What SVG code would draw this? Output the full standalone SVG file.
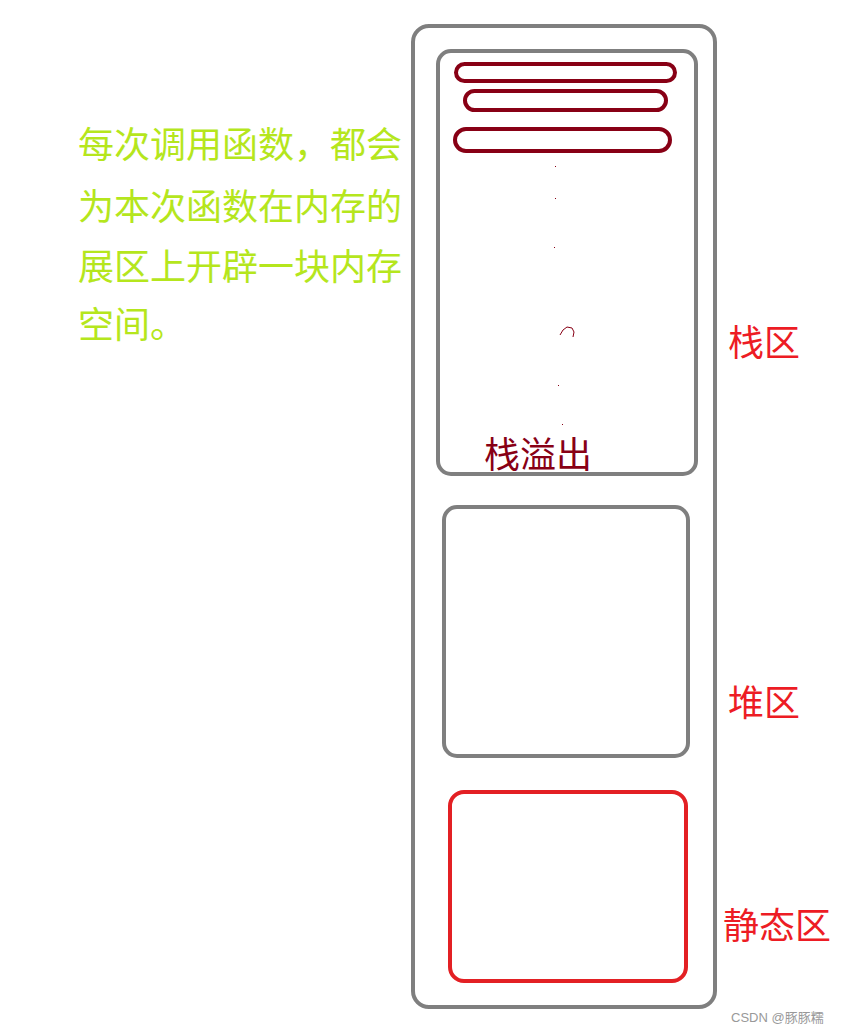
<svg xmlns="http://www.w3.org/2000/svg" width="845" height="1033" viewBox="0 0 845 1033">
<style>
.box{fill:none;stroke:#7f7f7f;stroke-width:4}
.pill{fill:none;stroke:#880015;stroke-width:4}
.cn{font-family:"Noto Sans CJK SC","Liberation Sans",sans-serif;font-size:36px}
.note{fill:#b5e61d}
.lbl{fill:#ed1c24}
.dot{fill:#880015}
</style>
<rect width="845" height="1033" fill="#ffffff"/>
<g id="memory">
<rect class="box" x="413" y="26" width="302" height="981" rx="16"/>
</g>
<g id="stack">
<rect class="box" x="438" y="51" width="258" height="423" rx="13"/>
<rect class="pill" x="456" y="64" width="219" height="17" rx="8.5"/>
<rect class="pill" x="465" y="91" width="201" height="19" rx="9.5"/>
<rect class="pill" x="455" y="129" width="215" height="22" rx="11"/>
<rect class="dot" x="555" y="166" width="1" height="1"/>
<rect class="dot" x="555" y="198" width="1" height="1"/>
<rect class="dot" x="554" y="247" width="1" height="1"/>
<path d="M560,335 L563,330 L567,327 L572,328 L574,332 L573,337" fill="none" stroke="#880015" stroke-width="1"/>
<rect class="dot" x="558" y="385" width="1" height="1"/>
<rect class="dot" x="562" y="424" width="1" height="1"/>
<text class="cn" x="484" y="468" fill="#880015">栈溢出</text>
</g>
<g id="heap">
<rect class="box" x="444" y="507" width="244" height="249" rx="13"/>
</g>
<g id="static">
<rect x="450" y="792" width="236" height="189" rx="14" fill="none" stroke="#e32024" stroke-width="4"/>
</g>
<g id="labels">
<text class="cn lbl" x="728" y="356">栈区</text>
<text class="cn lbl" x="728" y="716">堆区</text>
<text class="cn lbl" x="723" y="939">静态区</text>
</g>
<g id="note">
<text class="cn note" x="78" y="158">每次调用函数，都会</text>
<text class="cn note" x="78" y="220">为本次函数在内存的</text>
<text class="cn note" x="78" y="280">展区上开辟一块内存</text>
<text class="cn note" x="78" y="338">空间。</text>
</g>
<g id="connectors"></g>
<text x="731" y="1022" font-family="'Liberation Sans','Noto Sans CJK SC',sans-serif" font-size="13" fill="#999999">CSDN @豚豚糯</text>
</svg>
